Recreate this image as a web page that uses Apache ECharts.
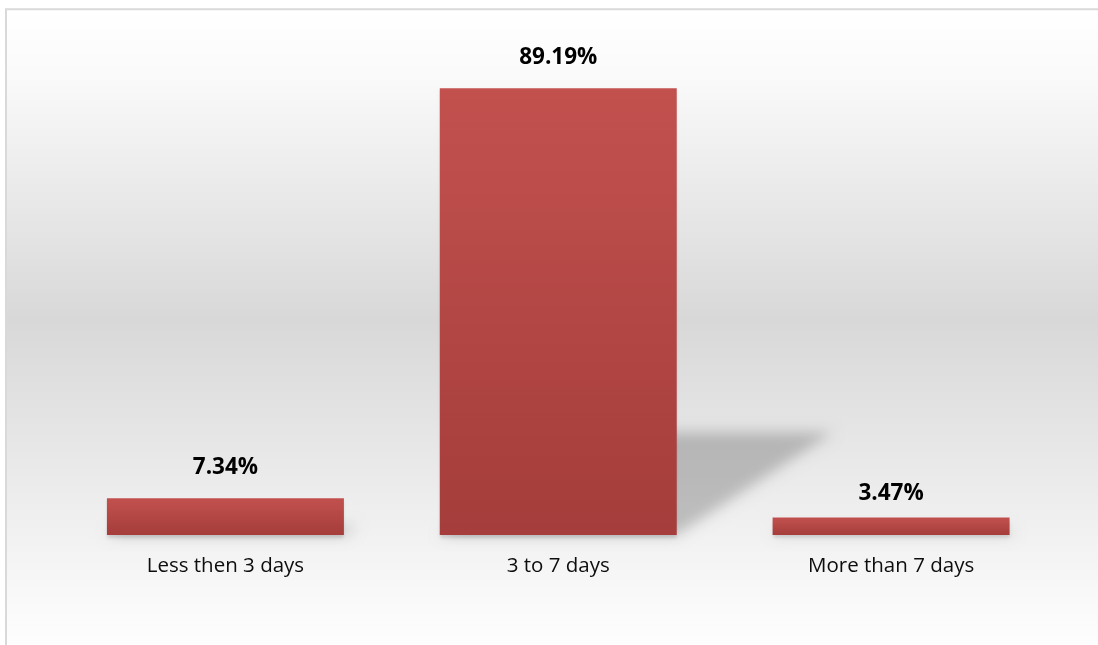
<!DOCTYPE html>
<html>
<head>
<meta charset="utf-8">
<script src="https://cdn.jsdelivr.net/npm/echarts@6/dist/echarts.min.js"></script>
<style>
  html, body { margin: 0; padding: 0; background: #ffffff; }
  #chart { width: 1098px; height: 645px; }
</style>
</head>
<body>
<div id="chart"></div>
<script>
// Length of stay, share of respondents (%)
const categories = ['Less then 3 days', '3 to 7 days', 'More than 7 days'];
const shares = [7.34, 89.19, 3.47];

// Gap between each bar top and its value label (px)
const labelGaps = [19, 19, 13];

const BAR_RATIO = 0.712;     // bar width as a share of the category band
const SHADOW_HEIGHT = 0.23;  // perspective shadow height relative to bar height
const SHADOW_SKEW = 1.52;    // horizontal shift per pixel of shadow height

const chart = echarts.init(document.getElementById('chart'), null, { renderer: 'canvas' });

// Skewed, blurred cast shadow drawn behind each bar
function renderCastShadow(params, api) {
  const idx = api.value(0);
  const v = api.value(1);
  const top = api.coord([idx, v]);
  const base = api.coord([idx, 0]);
  const band = api.size([1, 0])[0];
  const w = band * BAR_RATIO;
  const x0 = base[0] - w / 2;
  const x1 = base[0] + w / 2;
  const h = (base[1] - top[1]) * SHADOW_HEIGHT;
  const dx = h * SHADOW_SKEW;
  const off = 3000; // shape drawn off-canvas, only its blurred shadow lands on the chart
  return {
    type: 'polygon',
    silent: true,
    shape: {
      points: [
        [x0 - off, base[1]],
        [x1 - off, base[1]],
        [x1 + dx - off, base[1] - h],
        [x0 + dx - off, base[1] - h]
      ]
    },
    style: {
      fill: '#000',
      shadowColor: 'rgba(0,0,0,0.21)',
      shadowBlur: 14,
      shadowOffsetX: off,
      shadowOffsetY: 0
    }
  };
}

const option = {
  animation: false,
  backgroundColor: '#ffffff',
  graphic: [
    {
      type: 'rect',
      z: -10,
      silent: true,
      shape: { x: 6, y: 9.3, width: 1200, height: 660 },
      style: {
        fill: {
          type: 'linear', x: 0, y: 0, x2: 0, y2: 1,
          colorStops: [
            { offset: 0, color: '#ffffff' },
            { offset: 0.1, color: '#fafafa' },
            { offset: 0.47, color: '#d8d8d8' },
            { offset: 0.92, color: '#fbfbfb' },
            { offset: 1, color: '#ffffff' }
          ]
        },
        stroke: '#d9d9d9',
        lineWidth: 2
      }
    }
  ],
  grid: { left: 59, right: 40.5, top: 34, bottom: 110, containLabel: false },
  xAxis: {
    type: 'category',
    data: categories,
    axisLine: { show: false },
    axisTick: { show: false },
    axisLabel: {
      margin: 21,
      color: '#0d0d0d',
      fontFamily: 'Open Sans',
      fontSize: 20.5
    },
    splitLine: { show: false }
  },
  yAxis: {
    type: 'value',
    min: 0,
    max: 100,
    show: false,
    splitLine: { show: false }
  },
  series: [
    {
      type: 'custom',
      z: 1,
      clip: false,
      renderItem: renderCastShadow,
      data: shares.map((v, i) => [i, v]),
      silent: true
    },
    {
      type: 'bar',
      z: 3,
      barWidth: (BAR_RATIO * 100) + '%',
      data: shares.map((v, i) => ({ value: v, label: { distance: labelGaps[i] } })),
      itemStyle: {
        color: {
          type: 'linear', x: 0, y: 0, x2: 0, y2: 1,
          colorStops: [
            { offset: 0, color: '#c2514e' },
            { offset: 1, color: '#a43d3b' }
          ]
        },
        shadowColor: 'rgba(0,0,0,0.13)',
        shadowBlur: 3,
        shadowOffsetX: 0,
        shadowOffsetY: 3
      },
      label: {
        show: true,
        position: 'top',
        formatter: '{c}%',
        color: '#000000',
        fontFamily: 'Open Sans',
        fontWeight: 'bold',
        fontSize: 22.5
      }
    }
  ]
};

chart.setOption(option);
</script>
</body>
</html>
